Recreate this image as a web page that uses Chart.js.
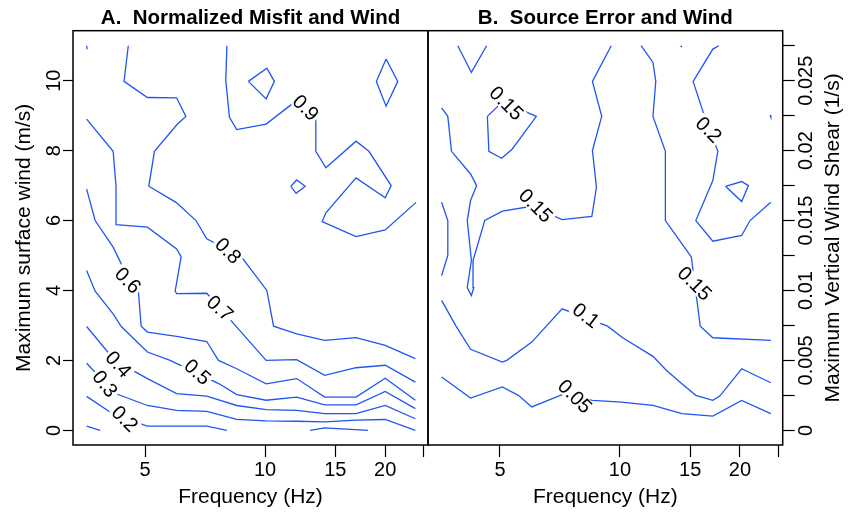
<!DOCTYPE html>
<html>
<head>
<meta charset="utf-8">
<script src="https://cdn.jsdelivr.net/npm/chart.js@4.4.0/dist/chart.umd.min.js"></script>
<style>
    html, body { margin: 0; padding: 0; background: #fff; }
    #wrap { position: relative; width: 851px; height: 512px; overflow: hidden; }
    canvas { position: absolute; top: 0; }
    #panelA { left: 0; }
    #panelB { left: 420px; }
</style>
</head>
<body>
<div id="wrap">
    <canvas id="panelA" width="440" height="512"></canvas>
    <canvas id="panelB" width="431" height="512"></canvas>
</div>
<script>
// Axis ticks
const freqTicks = [5, 10, 15, 20, 25];
const windTicks = [0, 2, 4, 6, 8, 10];
const shearTicks = [0, 0.0025, 0.005, 0.0075, 0.01, 0.0125, 0.015, 0.0175, 0.02, 0.0225, 0.025, 0.0275];

// Panel A: normalized misfit contours, points are [frequency (Hz), wind (m/s)]
const misfit09 = [[8.02,11.0],[7.97,10.0],[8.14,8.95],[8.49,8.6],[10.06,8.76],[11.67,9.33],[13.4,8.95],[13.4,7.98],[14.2,7.51],[16.9,8.27],[18.2,7.98],[20.7,7.0],[20.0,6.65],[16.9,7.22],[14.2,6.22],[13.9,5.97],[16.9,5.54],[20.0,5.73],[23.9,6.52]];
const misfit09Corner = [[3.57,11.0],[3.58,10.9]];
const misfit09LoopA = [[9.08,9.98],[10.1,10.36],[10.55,9.98],[10.06,9.48],[9.08,9.98]];
const misfit09LoopB = [[20.1,10.62],[21.5,9.98],[20.1,9.27],[19.0,9.98],[20.1,10.62]];
const misfit09LoopC = [[11.6,6.98],[12.0,7.16],[12.6,6.98],[11.96,6.78],[11.6,6.98]];
const misfit08 = [[4.54,11.0],[4.43,9.98],[5.07,9.52],[6.0,9.51],[6.33,8.98],[6.03,8.76],[5.28,7.98],[5.11,6.98],[5.98,6.52],[6.71,6.0],[7.14,5.48],[8.74,4.95],[10.1,4.0],[10.5,2.98],[12.0,2.76],[14.1,2.57],[16.9,2.65],[20.0,2.43],[23.8,2.05]];
const misfit07 = [[3.57,8.9],[4.16,7.98],[4.23,6.98],[4.23,5.88],[5.07,5.81],[6.0,5.19],[6.16,4.97],[5.95,3.98],[6.0,3.91],[7.14,3.92],[8.49,2.95],[10.06,2.0],[12.0,2.02],[14.1,1.57],[16.9,1.79],[20.0,1.86],[23.8,1.38]];
const misfit06 = [[3.57,6.9],[3.75,6.0],[4.16,5.24],[4.36,4.76],[4.81,4.0],[4.89,2.98],[5.07,2.81],[6.0,2.69],[7.14,2.54],[7.64,2.0],[8.49,1.76],[10.06,1.33],[12.0,1.48],[14.1,0.95],[16.9,0.95],[20.0,1.49],[23.8,0.86]];
const misfit05 = [[3.57,4.57],[3.75,3.98],[4.16,3.33],[4.36,2.97],[5.07,2.24],[5.78,2.0],[7.67,1.33],[8.49,1.02],[10.06,0.86],[12.0,0.95],[14.1,0.73],[16.9,0.73],[20.0,1.11],[23.8,0.62]];
const misfit04 = [[3.57,2.97],[4.2,2.0],[5.07,1.48],[6.0,1.05],[7.14,0.98],[8.49,0.71],[10.06,0.59],[12.0,0.57],[14.1,0.48],[16.9,0.48],[20.0,0.71],[23.8,0.33]];
const misfit03 = [[3.57,1.92],[4.2,1.06],[5.07,0.71],[6.0,0.57],[7.14,0.54],[8.49,0.31],[10.06,0.27],[12.0,0.26],[14.1,0.24],[16.9,0.29],[20.0,0.31],[23.8,0.0]];
const misfit02 = [[3.57,0.97],[4.2,0.43],[5.07,0.12],[7.14,0.12],[8.02,0.0]];
const misfit02Left = [[3.57,0.12],[3.86,0.0]];
const misfit02Right = [[12.97,0.0],[14.1,0.07],[18.1,0.0]];

// Panel B: source error contours, points are [frequency (Hz), wind shear (1/s)]
const source02 = [[17.7,0.0275],[17.1,0.02726],[15.26,0.02495],[16.3,0.02245],[17.6,0.01995],[17.1,0.01786],[15.5,0.015],[17.1,0.01352],[20.2,0.01393],[21.2,0.015],[23.9,0.01631]];
const source02Tri = [[18.4,0.01745],[20.2,0.01779],[21.0,0.0175],[20.2,0.01636],[18.4,0.01745]];
const source02DotTop = [[14.2,0.0275],[14.3,0.0274]];
const source02DotRight = [[23.8,0.02255],[23.9,0.0224]];
const source015 = [[3.57,0.02305],[3.70,0.02245],[3.78,0.01995],[4.22,0.01833],[4.37,0.0175],[4.22,0.01643],[4.14,0.015],[4.24,0.01214],[4.14,0.0102],[4.24,0.00964],[4.30,0.0102],[4.28,0.01214],[4.58,0.015],[5.07,0.01567],[6.01,0.01602],[7.16,0.01507],[8.50,0.01529],[8.73,0.01738],[8.53,0.0200],[9.0,0.02245],[8.53,0.02495],[9.51,0.0275]];
const source015Loop = [[4.65,0.02245],[5.07,0.0235],[6.17,0.02245],[5.37,0.02012],[5.05,0.01945],[4.69,0.01995],[4.65,0.02245]];
const source015Left = [[3.57,0.01631],[3.70,0.015],[3.70,0.0125],[3.57,0.01107]];
const source015Top = [[3.92,0.0275],[4.24,0.02559],[4.63,0.0275]];
const source015Mid = [[11.3,0.0275],[12.1,0.02631],[12.3,0.02495],[12.1,0.02245],[13.0,0.01995],[13.0,0.015],[14.7,0.01286],[15.1,0.0124],[15.9,0.00745],[17.1,0.00662],[23.9,0.00643]];
const source01 = [[3.57,0.00929],[3.87,0.0075],[4.22,0.00579],[5.07,0.00488],[5.2,0.005],[6.01,0.00631],[7.16,0.00869],[9.31,0.00745],[10.16,0.00662],[12.1,0.00529],[13.07,0.00429],[14.3,0.00333],[15.5,0.0025],[17.1,0.00214],[17.8,0.00245],[20.2,0.0044],[23.9,0.0034]];
const source005 = [[3.57,0.00381],[4.22,0.00231],[5.07,0.0031],[5.56,0.0025],[6.01,0.00167],[7.16,0.00255],[8.53,0.00214],[10.1,0.00202],[12.1,0.00179],[14.3,0.00119],[17.1,0.00102],[20.2,0.00214],[23.9,0.00119]];

// Contour labels: text, position on its line, tilt in degrees
const misfitLabels = [
    { text: '0.9', at: [12.64, 9.23], angle: 45 },
    { text: '0.8', at: [8.08, 5.14], angle: 45 },
    { text: '0.7', at: [7.71, 3.49], angle: 42 },
    { text: '0.6', at: [4.53, 4.29], angle: 45 },
    { text: '0.5', at: [6.77, 1.67], angle: 42 },
    { text: '0.4', at: [4.29, 1.89], angle: 48 },
    { text: '0.3', at: [3.97, 1.33], angle: 52 },
    { text: '0.2', at: [4.45, 0.33], angle: 45 }
];
const sourceLabels = [
    { text: '0.15', at: [5.19, 0.02339], angle: 45 },
    { text: '0.15', at: [6.15, 0.01607], angle: 45 },
    { text: '0.2', at: [16.7, 0.0215], angle: 45 },
    { text: '0.15', at: [15.4, 0.0105], angle: 45 },
    { text: '0.1', at: [8.22, 0.00821], angle: 38 },
    { text: '0.05', at: [7.71, 0.00243], angle: 45 }
];

const fontFamily = "'Liberation Sans', Arial, Helvetica, sans-serif";
const contourBlue = '#1f55f2';

function lineSet(points) {
    return {
        data: points.map(p => ({ x: p[0], y: p[1] })),
        showLine: true,
        borderColor: contourBlue,
        borderWidth: 1.3,
        pointRadius: 0,
        tension: 0,
        fill: false
    };
}

const panelPlugin = {
    id: 'panelPlugin',
    afterDatasetsDraw(chart) {
        const opts = chart.options.plugins.panelPlugin;
        const { ctx } = chart;
        const xs = chart.scales.x, ys = chart.scales.y;
        ctx.save();
        ctx.font = '20px ' + fontFamily;
        ctx.textAlign = 'center';
        ctx.textBaseline = 'middle';
        opts.labels.forEach(lab => {
            const px = xs.getPixelForValue(lab.at[0]);
            const py = ys.getPixelForValue(lab.at[1]);
            const w = ctx.measureText(lab.text).width;
            ctx.save();
            ctx.translate(px, py);
            ctx.rotate(lab.angle * Math.PI / 180);
            ctx.fillStyle = '#fff';
            ctx.fillRect(-w / 2 - 2, -8, w + 4, 16);
            ctx.fillStyle = '#000';
            ctx.fillText(lab.text, 0, 1);
            ctx.restore();
        });
        ctx.restore();
    },
    afterDraw(chart) {
        const opts = chart.options.plugins.panelPlugin;
        const { ctx, chartArea: a } = chart;
        ctx.save();
        ctx.strokeStyle = '#000';
        ctx.lineWidth = 1.5;
        ctx.strokeRect(a.left, a.top, a.right - a.left, a.bottom - a.top);
        if (opts.sideTitle) {
            ctx.translate(opts.sideTitleX, (a.top + a.bottom) / 2);
            ctx.rotate(-Math.PI / 2);
            ctx.fillStyle = '#000';
            ctx.font = '21px ' + fontFamily;
            ctx.textAlign = 'center';
            ctx.textBaseline = 'middle';
            ctx.fillText(opts.sideTitle, 0, 0);
        }
        ctx.restore();
    }
};

function freqAxis() {
    return {
        type: 'logarithmic',
        position: 'bottom',
        min: 3.3,
        max: 25.6,
        afterBuildTicks: s => { s.ticks = freqTicks.map(v => ({ value: v })); },
        afterFit: s => { s.height = 67; },
        border: { display: false },
        grid: { drawOnChartArea: false, drawTicks: true, tickLength: 12, tickColor: '#000', tickWidth: 1.2 },
        ticks: {
            autoSkip: false, minRotation: 0, maxRotation: 0, padding: 1, color: '#000',
            font: { family: fontFamily, size: 20 },
            callback: v => (v === 25 ? '' : String(v))
        },
        title: {
            display: true, text: 'Frequency (Hz)', color: '#000',
            font: { family: fontFamily, size: 21 }, padding: { top: 0, bottom: 2 }
        }
    };
}

function makePanel(id, title, datasets, labels, yAxis, padding, sideTitle) {
    return new Chart(document.getElementById(id), {
        type: 'scatter',
        data: { datasets: datasets },
        options: {
            responsive: false,
            animation: false,
            events: [],
            layout: { padding: padding },
            scales: { x: freqAxis(), y: yAxis },
            plugins: {
                legend: { display: false },
                tooltip: { enabled: false },
                title: {
                    display: true, text: title, fullSize: false, color: '#000',
                    font: { family: fontFamily, size: 20.5, weight: 'bold', lineHeight: 1.2 },
                    padding: { top: 6.1, bottom: 0 }
                },
                panelPlugin: { labels: labels, sideTitle: sideTitle ? sideTitle.text : null, sideTitleX: sideTitle ? sideTitle.x : 0 }
            }
        },
        plugins: [panelPlugin]
    });
}

makePanel('panelA', 'A.  Normalized Misfit and Wind',
    [misfit09, misfit09Corner, misfit09LoopA, misfit09LoopB, misfit09LoopC, misfit08, misfit07,
     misfit06, misfit05, misfit04, misfit03, misfit02, misfit02Left, misfit02Right].map(lineSet),
    misfitLabels,
    {
        type: 'linear', position: 'left', min: -0.42, max: 11.43,
        afterBuildTicks: s => { s.ticks = windTicks.map(v => ({ value: v })); },
        afterFit: s => { s.width = 73; },
        border: { display: false },
        grid: { drawOnChartArea: false, drawTicks: true, tickLength: 10, tickColor: '#000', tickWidth: 1.2 },
        ticks: {
            autoSkip: false, minRotation: 90, maxRotation: 90, crossAlign: 'center', padding: -2.6,
            color: '#000', font: { family: fontFamily, size: 20 }
        },
        title: {
            display: true, text: 'Maximum surface wind (m/s)', color: '#000',
            font: { family: fontFamily, size: 21 }, padding: { top: 11.4, bottom: 0 }
        }
    },
    { left: 0, right: 12, top: 0, bottom: 0 });

makePanel('panelB', 'B.  Source Error and Wind',
    [source02, source02Tri, source02DotTop, source02DotRight, source015, source015Loop, source015Left,
     source015Top, source015Mid, source01, source005].map(lineSet),
    sourceLabels,
    {
        type: 'linear', position: 'right', min: -0.00105, max: 0.028575,
        afterBuildTicks: s => { s.ticks = shearTicks.map(v => ({ value: v })); },
        afterFit: s => { s.width = 68.3; },
        border: { display: false },
        grid: { drawOnChartArea: false, drawTicks: true, tickLength: 12, tickColor: '#000', tickWidth: 1.2 },
        ticks: {
            autoSkip: false, minRotation: 90, maxRotation: 90, crossAlign: 'center', padding: -13.7,
            color: '#000', font: { family: fontFamily, size: 20 },
            callback: v => (Math.round(v * 10000) % 50 === 0 ? String(+v.toFixed(3)) : '')
        }
    },
    { left: 8, right: 0, top: 0, bottom: 0 },
    { text: 'Maximum Vertical Wind Shear (1/s)', x: 413 });
</script>
</body>
</html>
